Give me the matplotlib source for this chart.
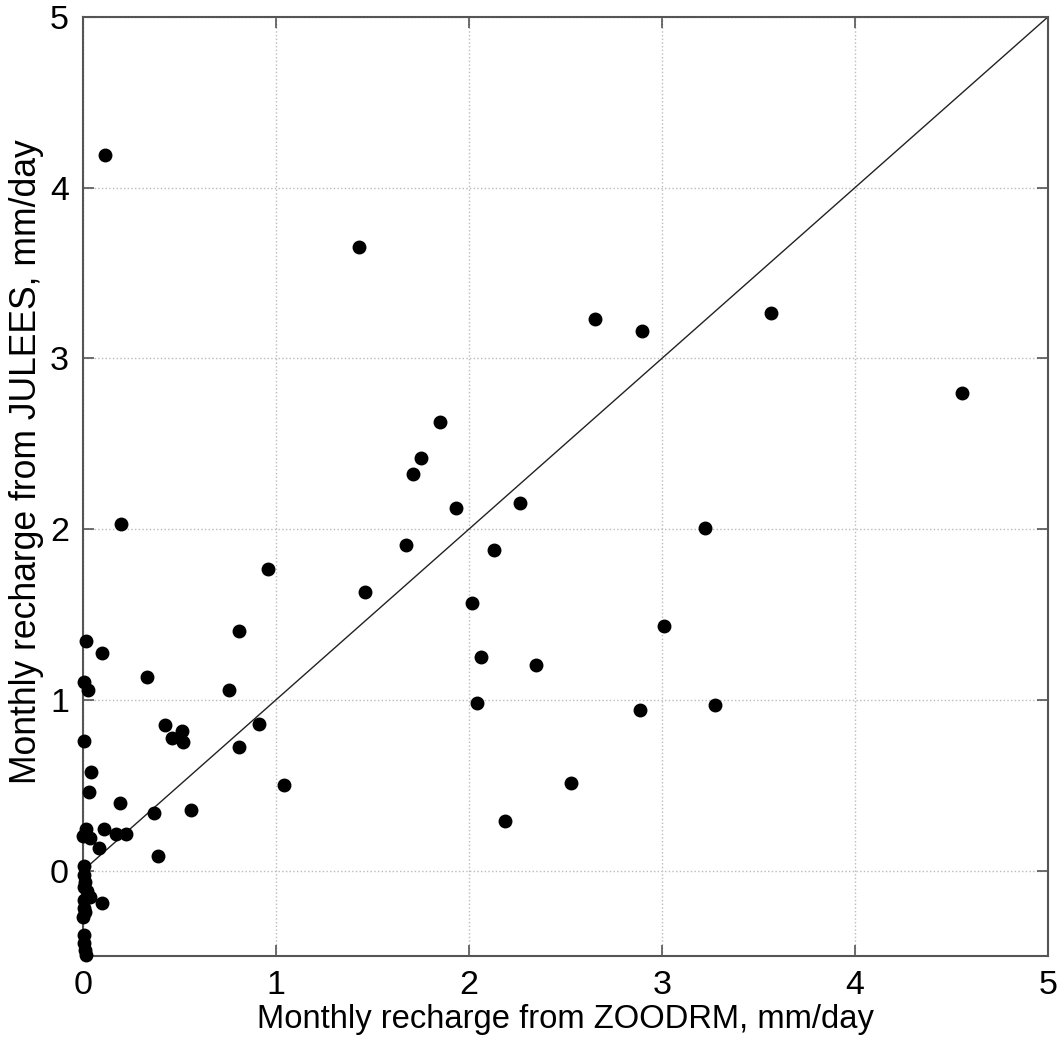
"""
Monthly recharge: ZOODRM vs JULEES scatter with 1:1 line.
"""

import matplotlib
matplotlib.use("Agg")
import matplotlib.pyplot as plt

# monthly recharge (mm/day)
zoodrm = [0.116, 1.428, 2.655, 2.896, 3.565, 4.553, 1.850, 1.753, 1.708, 1.931,
          2.266, 0.195, 3.221, 1.672, 2.128, 0.957, 1.461, 2.014, 3.009, 0.807,
          0.017, 0.098, 2.064, 2.347, 0.333, 0.004, 0.026, 0.755, 0.424, 0.514,
          0.462, 0.517, 0.914, 0.810, 2.040, 2.888, 3.275, 0.003, 0.043, 0.031,
          1.041, 2.530, 0.190, 0.366, 0.562, 2.185, 0.014, 0.110, 0.000, 0.034,
          0.172, 0.221, 0.083, 0.391, 0.003, 0.005, 0.008, 0.003, 0.034, 0.003,
          0.100, 0.004, 0.000, 0.004, 0.004, 0.008, 0.017, 0.010, 0.020]
julees = [4.190, 3.650, 3.228, 3.159, 3.263, 2.795, 2.627, 2.414, 2.322, 2.124,
          2.154, 2.030, 2.005, 1.907, 1.876, 1.766, 1.631, 1.565, 1.434, 1.406,
          1.342, 1.273, 1.250, 1.203, 1.133, 1.107, 1.059, 1.057, 0.852, 0.820,
          0.777, 0.754, 0.859, 0.723, 0.984, 0.939, 0.972, 0.760, 0.580, 0.459,
          0.500, 0.512, 0.395, 0.340, 0.354, 0.289, 0.242, 0.246, 0.203, 0.191,
          0.215, 0.215, 0.131, 0.086, 0.029, -0.025, -0.064, -0.094, -0.156, -0.172,
          -0.191, -0.220, -0.270, -0.377, -0.426, -0.465, -0.494, -0.240, -0.120]

one_to_one = [0.03, 5.0]

plt.rcParams["font.family"] = ["Liberation Sans", "DejaVu Sans"]

fig = plt.figure(figsize=(10.57, 10.40), dpi=100)
ax = fig.add_axes([0.0785, 0.0808, 0.913, 0.903])

ax.plot(one_to_one, one_to_one, color="#222222", linewidth=1.0, zorder=2)
ax.plot(zoodrm, julees, "o", color="black", markersize=9, zorder=3, clip_on=False)

ax.set_xlim(0, 5)
ax.set_ylim(-0.5, 5)
ax.set_xticks(range(0, 6))
ax.set_yticks(range(0, 6))
ax.grid(True, color="#bbbbbb", linestyle=":", linewidth=1.0)
ax.set_axisbelow(True)

for spine in ax.spines.values():
    spine.set_color("#555555")
    spine.set_linewidth(1.5)
ax.tick_params(direction="in", top=True, right=True, length=8, width=1.2,
               color="#555555", labelsize=24.5, pad=10)

ax.set_xlabel("Monthly recharge from ZOODRM, mm/day", fontsize=23.6, labelpad=2)
ax.set_ylabel("Monthly recharge from JULEES, mm/day", fontsize=25.6)
ax.yaxis.set_label_coords(-0.040, 0.526)

fig.savefig("out.png", dpi=100)
